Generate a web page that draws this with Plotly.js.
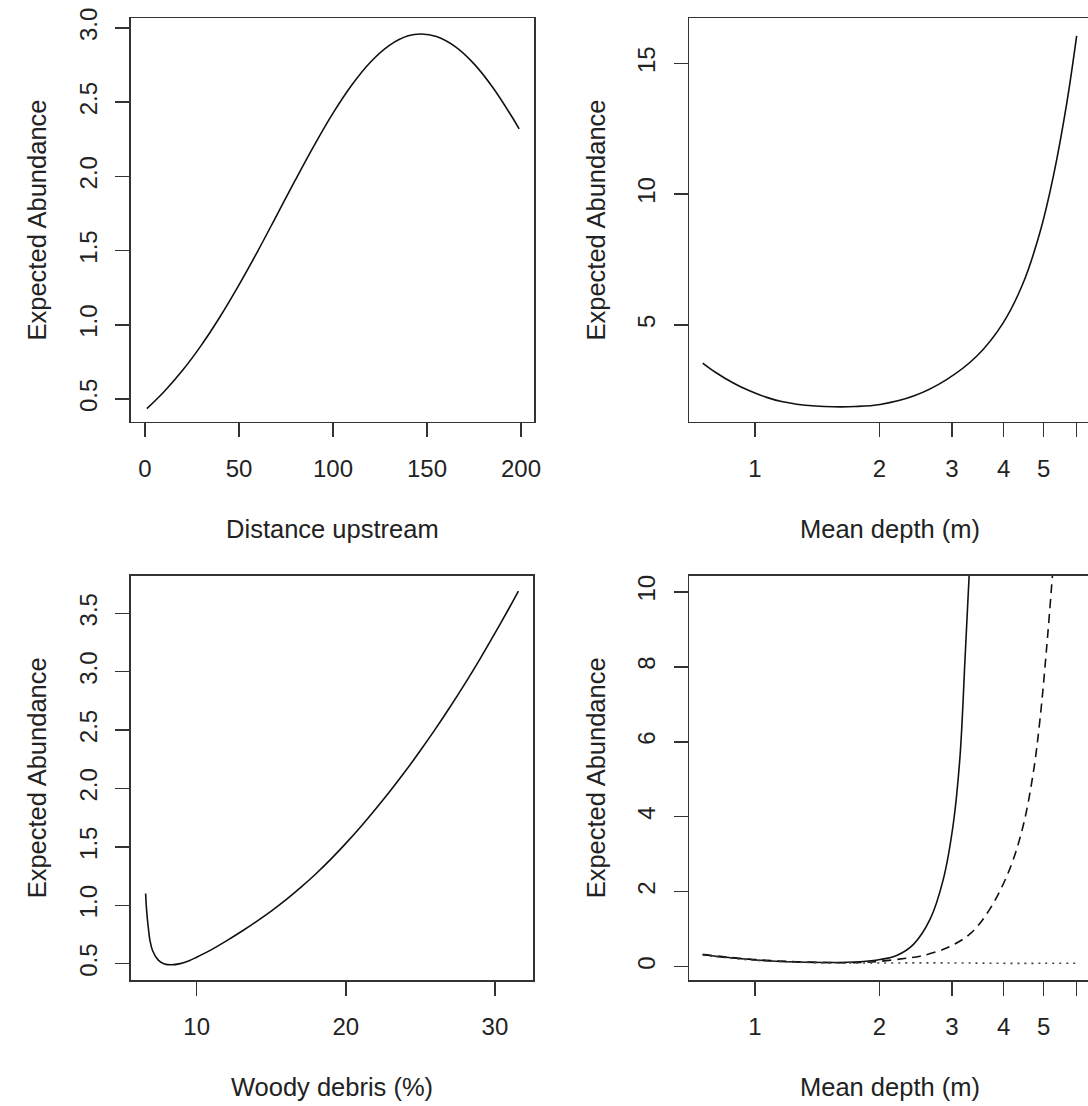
<!DOCTYPE html>
<html>
<head>
<meta charset="utf-8">
<script src="https://cdn.plot.ly/plotly-3.0.1.min.js"></script>
<style>
html,body{margin:0;padding:0;background:#fff;overflow:hidden;}
#chart{width:1100px;height:1106px;}
</style>
</head>
<body>
<div id="chart"></div>
<script>
// ---- Data ----
// Panel 1: Distance upstream
const distX = [1, 10, 20, 30, 40, 50, 60, 70, 80, 90, 100, 110, 120, 130, 140, 147, 155, 165, 175, 185, 195, 199];
const distY = [0.435, 0.547, 0.693, 0.863, 1.056, 1.269, 1.497, 1.736, 1.976, 2.209, 2.426, 2.616, 2.771, 2.883, 2.947, 2.959, 2.942, 2.874, 2.758, 2.599, 2.405, 2.32];
const distTicks = [0, 50, 100, 150, 200];
const distYTicks = [0.5, 1.0, 1.5, 2.0, 2.5, 3.0];

// Panel 2: Mean depth (m)
const depthX = [0.747, 0.8, 0.886, 0.97, 1.067, 1.16, 1.262, 1.4, 1.545, 1.75, 2.01, 2.42, 2.91, 3.44, 3.99, 4.46, 4.90, 5.28, 5.69, 6.01];
const depthY = [3.54, 3.20, 2.78, 2.48, 2.23, 2.07, 1.97, 1.90, 1.87, 1.88, 1.96, 2.28, 2.91, 3.80, 5.08, 6.60, 8.55, 10.70, 13.50, 16.05];
const depthTicks = [1, 2, 3, 4, 5, 6];
const depthTickText = ["1", "2", "3", "4", "5", ""];
const depthYTicks = [5, 10, 15];

// Panel 3: Woody debris (%)
const woodX = [6.58, 6.65, 6.75, 6.87, 7.05, 7.43, 7.8, 8.3, 8.9, 9.5, 10, 11, 12, 13, 14, 15, 16, 17, 18, 19, 20, 21, 22, 23, 24, 25, 26, 27, 28, 29, 30, 31, 31.57];
const woodY = [1.10, 0.95, 0.82, 0.70, 0.61, 0.53, 0.50, 0.49, 0.50, 0.525, 0.555, 0.62, 0.695, 0.775, 0.86, 0.95, 1.048, 1.155, 1.27, 1.395, 1.53, 1.673, 1.825, 1.983, 2.149, 2.325, 2.508, 2.70, 2.90, 3.11, 3.33, 3.556, 3.69];
const woodTicks = [10, 20, 30];
const woodYTicks = [0.5, 1.0, 1.5, 2.0, 2.5, 3.0, 3.5];

// Panel 4: Mean depth (m), three curves
const solidX = [0.747, 0.85, 1.0, 1.2, 1.5, 1.8, 2.008, 2.203, 2.417, 2.653, 2.857, 3.02, 3.136, 3.225, 3.30];
const solidY = [0.32, 0.25, 0.18, 0.13, 0.11, 0.13, 0.19, 0.30, 0.59, 1.26, 2.33, 3.8, 5.6, 8.2, 10.43];
const dashX = [0.747, 0.85, 1.0, 1.2, 1.5, 1.8, 2.0, 2.3, 2.51, 2.91, 3.32, 3.71, 4.14, 4.46, 4.72, 4.90, 5.085, 5.25];
const dashY = [0.33, 0.26, 0.19, 0.14, 0.11, 0.11, 0.14, 0.22, 0.28, 0.50, 0.88, 1.55, 2.61, 3.76, 5.18, 6.61, 8.52, 10.43];
const dotX = [0.747, 0.85, 1.0, 1.2, 1.5, 2.0, 3.0, 4.0, 5.0, 6.05];
const dotY = [0.31, 0.24, 0.17, 0.13, 0.10, 0.10, 0.10, 0.09, 0.09, 0.09];
const depth2YTicks = [0, 2, 4, 6, 8, 10];

const yTitle = "Expected Abundance";

// ---- Layout helpers (pixel boxes) ----
const W = 1100, H = 1106;
const dx = (a, b) => [a / W, b / W];
const dy = (top, bottom) => [1 - bottom / H, 1 - top / H];
const TICKFONT = {family: "Liberation Sans, Arial, sans-serif", size: 24, color: "#222"};
const TITLEFONT = {family: "Liberation Sans, Arial, sans-serif", size: 25.5, color: "#222"};

function xAxis(domain, anchor, range, opts) {
  return Object.assign({
    domain: domain, anchor: anchor, range: range,
    showline: true, mirror: true, linecolor: "#333", linewidth: 1.5,
    ticks: "outside", ticklen: 14, tickwidth: 1.5, tickcolor: "#333",
    showgrid: false, zeroline: false, tickfont: TICKFONT,
    ticklabelstandoff: 11
  }, opts);
}
function yAxis(domain, anchor, range, opts) {
  return Object.assign({
    domain: domain, anchor: anchor, range: range,
    showline: true, mirror: true, linecolor: "#333", linewidth: 1.5,
    ticks: "outside", ticklen: 14, tickwidth: 1.5, tickcolor: "#333",
    showgrid: false, zeroline: false, tickfont: TICKFONT, tickangle: -90,
    ticklabelstandoff: 9,
    title: {text: yTitle, font: TITLEFONT, standoff: 20}
  }, opts);
}

const line = {color: "#111", width: 1.6, shape: "spline", smoothing: 1};

const traces = [
  {x: distX, y: distY, xaxis: "x", yaxis: "y", mode: "lines", line: line},
  {x: depthX, y: depthY, xaxis: "x2", yaxis: "y2", mode: "lines", line: line},
  {x: woodX, y: woodY, xaxis: "x3", yaxis: "y3", mode: "lines", line: line},
  {x: solidX, y: solidY, xaxis: "x4", yaxis: "y4", mode: "lines", line: line},
  {x: dashX, y: dashY, xaxis: "x4", yaxis: "y4", mode: "lines",
   line: Object.assign({}, line, {dash: "9px,6px"})},
  {x: dotX, y: dotY, xaxis: "x4", yaxis: "y4", mode: "lines",
   line: Object.assign({}, line, {dash: "2px,5px", color: "#444"})}
];

const topRow = dy(18.3, 421.7), botRow = dy(575.7, 980);
const leftCol = dx(130.7, 534), leftCol2 = dx(130.7, 533.3), rightCol = dx(689, 1091);
const logRange = [-0.1598, 0.8136];

const layout = {
  width: W, height: H,
  margin: {l: 0, r: 0, t: 0, b: 0, pad: 0},
  paper_bgcolor: "#fff", plot_bgcolor: "#fff",
  showlegend: false, hovermode: false,
  font: TICKFONT,
  xaxis: xAxis(leftCol, "y", [-7.6, 206.9], {tickvals: distTicks,
    title: {text: "Distance upstream", font: TITLEFONT, standoff: 39}}),
  yaxis: yAxis(topRow, "x", [0.347, 3.065], {tickvals: distYTicks, tickformat: ".1f"}),
  xaxis2: xAxis(rightCol, "y2", logRange, {type: "log", tickvals: depthTicks, ticktext: depthTickText,
    title: {text: "Mean depth (m)", font: TITLEFONT, standoff: 39}}),
  yaxis2: yAxis(topRow, "x2", [1.30, 16.72], {tickvals: depthYTicks}),
  xaxis3: xAxis(leftCol2, "y3", [5.58, 32.57], {tickvals: woodTicks,
    title: {text: "Woody debris (%)", font: TITLEFONT, standoff: 39}}),
  yaxis3: yAxis(botRow, "x3", [0.36, 3.822], {tickvals: woodYTicks, tickformat: ".1f"}),
  xaxis4: xAxis(rightCol, "y4", logRange, {type: "log", tickvals: depthTicks, ticktext: depthTickText,
    title: {text: "Mean depth (m)", font: TITLEFONT, standoff: 39}}),
  yaxis4: yAxis(botRow, "x4", [-0.355, 10.43], {tickvals: depth2YTicks})
};

Plotly.newPlot("chart", traces, layout, {staticPlot: true, displayModeBar: false});
</script>
</body>
</html>
